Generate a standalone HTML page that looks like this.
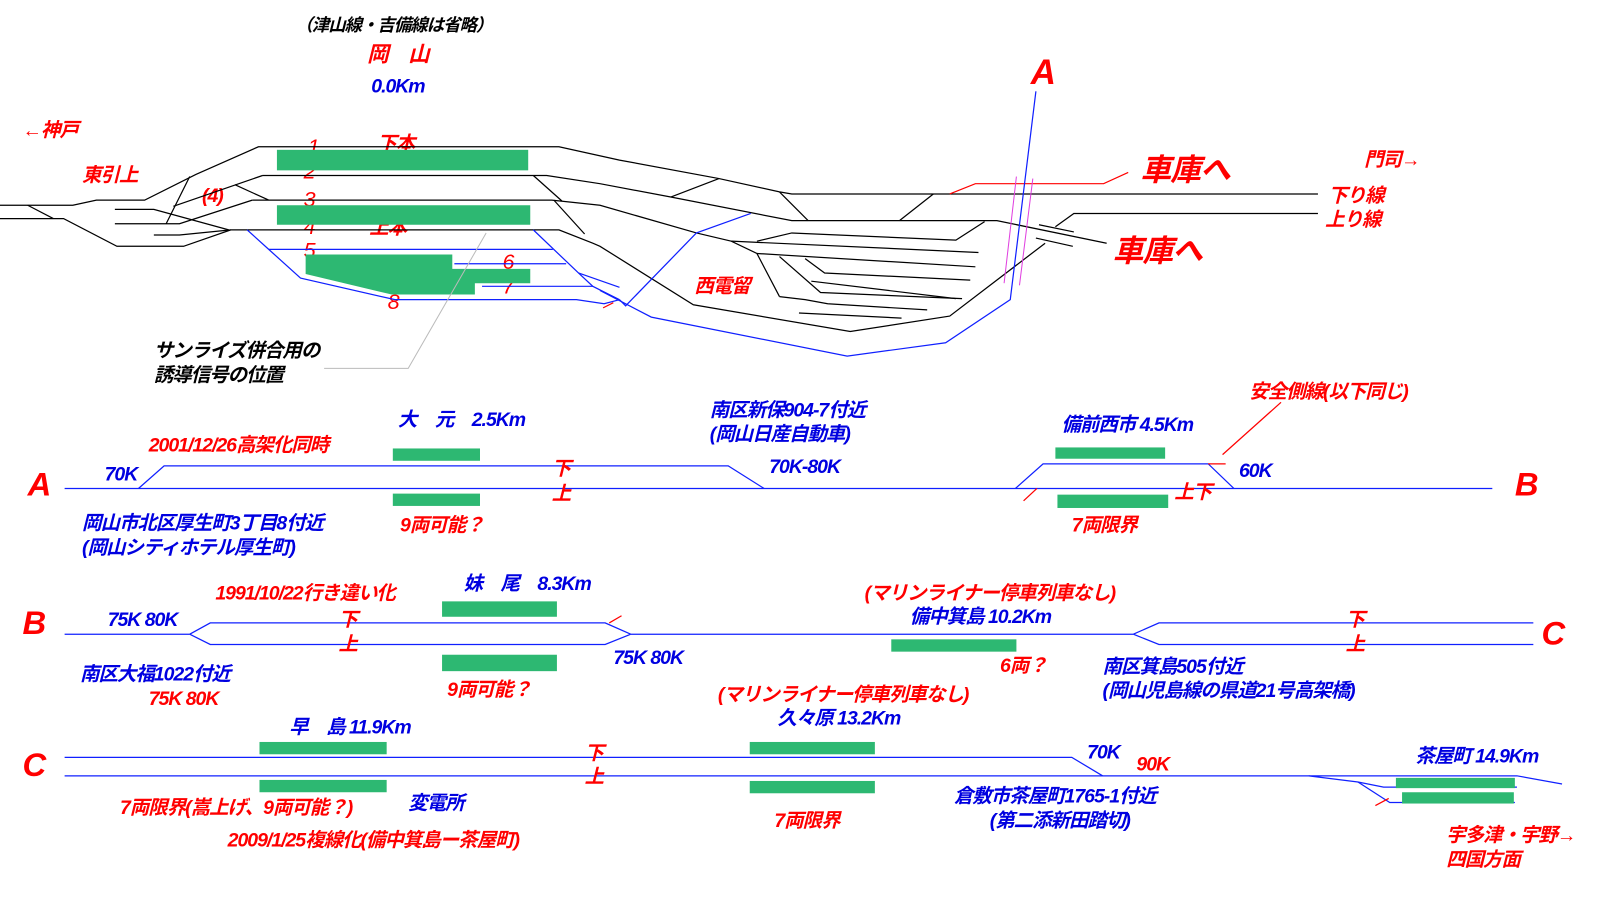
<!DOCTYPE html>
<html><head><meta charset="utf-8"><style>
html,body{margin:0;padding:0;background:#fff;}
svg{display:block}
text{font-family:"Liberation Sans","Noto Sans CJK JP",sans-serif;font-style:italic;font-size:19px;letter-spacing:-1px;font-weight:bold}
.r{fill:#f00}.b{fill:#0000e0}.k{fill:#000}
.bl{stroke:#000;stroke-width:1.2;fill:none}
.bu{stroke:#1020ff;stroke-width:1.2;fill:none}
.rd{stroke:#f00;stroke-width:1.2;fill:none}
.g{fill:#2db872}
.big{font-size:32px}
.huge{font-size:30px}
.num{font-size:21px;font-weight:normal}
</style></head><body>
<svg width="1600" height="900" viewBox="0 0 1560 877" preserveAspectRatio="none" xmlns="http://www.w3.org/2000/svg">
<!-- top texts -->
<text class="k" x="288" y="30" style="font-size:17px">（津山線・吉備線は省略）</text>
<text class="r" x="358" y="60" style="font-size:21px">岡　山</text>
<text class="b" x="362" y="90">0.0Km</text>
<text class="r" x="22" y="133">←神戸</text>
<text class="r" x="80" y="177">東引上</text>
<text class="r" x="197" y="197">(4)</text>
<text class="r num" x="300" y="150">1</text>
<text class="r" x="368" y="146">下本</text>
<text class="r num" x="296" y="174">2</text>
<text class="r num" x="296" y="201">3</text>
<text class="r num" x="296" y="228">4</text>
<text class="r" x="360" y="228">上本</text>
<text class="r num" x="296" y="251">5</text>
<text class="r" x="383" y="273">宇野</text>
<text class="r num" x="490" y="262">6</text>
<text class="r num" x="490" y="286">7</text>
<text class="r num" x="378" y="301">8</text>
<text class="r" x="677" y="285">西電留</text>
<text class="r" x="1005" y="82" style="font-size:34px">A</text>
<text class="r" x="1112" y="176" style="font-size:30px">車庫へ</text>
<text class="r" x="1085" y="255" style="font-size:30px">車庫へ</text>
<text class="r" x="1330" y="162">門司→</text>
<text class="r" x="1295" y="197">下り線</text>
<text class="r" x="1292" y="220">上り線</text>
<text class="k" x="150" y="348">サンライズ併合用の</text>
<text class="k" x="150" y="372">誘導信号の位置</text>

<!-- green platforms top -->
<rect class="g" x="270" y="146" width="245" height="20"/>
<rect class="g" x="270" y="200" width="247" height="19"/>
<polygon class="g" points="298,248 441,248 441,262 517,262 517,276 463,276 463,287 382,287 298,267"/>

<!-- black tracks -->
<polyline class="bl" points="0,200 71,200 94,195 141,195 191,170 252,143 545,143 604,156 701,174 760,187 772,189 1285,189"/>
<polyline class="bl" points="0,213 62,213 114,240 179,240 225,224 545,224 578,237 585,240 676,297 829,323 926,308 1019,237"/>
<line class="bl" x1="27" y1="200" x2="52" y2="213"/>
<polyline class="bl" points="256,171 533,171 585,179 654,192 772,215 972,215 1079,237"/>
<polyline class="bl" points="246,195 538,195 585,200 679,227 713,235 738,247 760,289"/>
<polyline class="bl" points="112,204 150,204 223,224"/>
<polyline class="bl" points="112,218 175,218 246,195"/>
<polyline class="bl" points="150,229 175,229 225,224"/>
<line class="bl" x1="162" y1="218" x2="185" y2="172"/>
<line class="bl" x1="169" y1="201" x2="256" y2="171"/>
<line class="bl" x1="229" y1="180" x2="262" y2="195"/>
<line class="bl" x1="520" y1="171" x2="548" y2="196"/>
<line class="bl" x1="540" y1="195" x2="570" y2="228"/>
<line class="bl" x1="760" y1="187" x2="788" y2="215"/>
<line class="bl" x1="701" y1="174" x2="654" y2="192"/>
<line class="bl" x1="910" y1="189" x2="877" y2="215"/>
<polyline class="bl" points="1285,208 1047,208 1029,221"/>
<line class="bl" x1="1013" y1="219" x2="1047" y2="226"/>
<line class="bl" x1="1010" y1="232" x2="1046" y2="240"/>
<polyline class="bl" points="738,235 772,227 932,234 960,216"/>
<line class="bl" x1="713" y1="235" x2="954" y2="246"/>
<line class="bl" x1="738" y1="247" x2="951" y2="260"/>
<polyline class="bl" points="785,252 804,266 946,273"/>
<polyline class="bl" points="760,250 800,285 938,291"/>
<line class="bl" x1="791" y1="274" x2="932" y2="291"/>
<polyline class="bl" points="760,289 785,292 807,296 904,302"/>
<line class="bl" x1="779" y1="305" x2="879" y2="310"/>
<!-- red top -->
<polyline class="rd" points="926,189 951,179 1076,179 1100,168"/>
<line class="rd" x1="588" y1="300" x2="598" y2="295"/>
<!-- magenta -->
<line x1="991" y1="172" x2="979" y2="276" stroke="#e040e0" stroke-width="1"/>
<line x1="1007" y1="174" x2="994" y2="278" stroke="#e040e0" stroke-width="1"/>
<!-- blue top -->
<polyline class="bu" points="241,224 262,243 293,271 385,292 562,292 589,296 604,292"/>
<line class="bu" x1="262" y1="243" x2="539" y2="243"/>
<line class="bu" x1="443" y1="257" x2="552" y2="257"/>
<line class="bu" x1="470" y1="279" x2="578" y2="279"/>
<polyline class="bu" points="520,224 564,266 578,279 604,292"/>
<line class="bu" x1="564" y1="266" x2="604" y2="280"/>
<polyline class="bu" points="604,292 610,298 679,227 732,208"/>
<polyline class="bu" points="585,283 635,309 826,347 922,334 985,292 1010,89"/>
<polyline points="474,227 398,359 316,359" stroke="#bbb" fill="none" stroke-width="1"/>

<!-- Row A -->
<line class="bu" x1="63" y1="476" x2="1455" y2="476"/>
<polyline class="bu" points="135,476 160,454 710,454 745,476"/>
<polyline class="bu" points="990,476 1017,452 1178,452 1203,476"/>
<line class="rd" x1="998" y1="488" x2="1011" y2="476"/>
<line class="rd" x1="1178" y1="452" x2="1195" y2="452"/>
<line class="rd" x1="1192" y1="443" x2="1249" y2="392"/>
<rect class="g" x="383" y="437" width="85" height="12"/>
<rect class="g" x="383" y="481" width="85" height="12"/>
<rect class="g" x="1029" y="436" width="107" height="11"/>
<rect class="g" x="1031" y="482" width="108" height="13"/>
<text class="b" x="388" y="415">大　元　2.5Km</text>
<text class="r" x="145" y="440">2001/12/26高架化同時</text>
<text class="b" x="102" y="468">70K</text>
<text class="r" x="27" y="483" style="font-size:32px">A</text>
<text class="r" x="538" y="463">下</text>
<text class="r" x="538" y="487">上</text>
<text class="b" x="692" y="406">南区新保904-7付近</text>
<text class="b" x="692" y="429">(岡山日産自動車)</text>
<text class="b" x="750" y="461">70K-80K</text>
<text class="b" x="1035" y="420">備前西市 4.5Km</text>
<text class="r" x="1218" y="388">安全側線(以下同じ)</text>
<text class="b" x="1208" y="465">60K</text>
<text class="r" x="1145" y="486">上下</text>
<text class="r" x="1477" y="483" style="font-size:32px">B</text>
<text class="b" x="80" y="516">岡山市北区厚生町3丁目8付近</text>
<text class="b" x="80" y="540">(岡山シティホテル厚生町)</text>
<text class="r" x="390" y="518">9両可能？</text>
<text class="r" x="1045" y="518">7両限界</text>

<!-- Row B -->
<line class="bu" x1="63" y1="618" x2="185" y2="618"/>
<polyline class="bu" points="185,618 205,607 590,607 615,618"/>
<polyline class="bu" points="185,618 205,628 590,628 615,618"/>
<line class="bu" x1="615" y1="618" x2="1105" y2="618"/>
<polyline class="bu" points="1105,618 1130,607 1495,607"/>
<polyline class="bu" points="1105,618 1130,628 1495,628"/>
<line class="rd" x1="594" y1="607" x2="606" y2="600"/>
<rect class="g" x="431" y="586" width="112" height="15"/>
<rect class="g" x="431" y="638" width="112" height="16"/>
<rect class="g" x="869" y="623" width="122" height="12"/>
<text class="r" x="210" y="584">1991/10/22行き違い化</text>
<text class="b" x="452" y="575">妹　尾　8.3Km</text>
<text class="r" x="22" y="618" style="font-size:32px">B</text>
<text class="b" x="105" y="610">75K 80K</text>
<text class="r" x="330" y="610">下</text>
<text class="r" x="330" y="634">上</text>
<text class="r" x="843" y="584">(マリンライナー停車列車なし)</text>
<text class="b" x="887" y="607">備中箕島 10.2Km</text>
<text class="b" x="598" y="647">75K 80K</text>
<text class="r" x="975" y="655">6両？</text>
<text class="r" x="1503" y="628" style="font-size:32px">C</text>
<text class="r" x="1312" y="610">下</text>
<text class="r" x="1312" y="634">上</text>
<text class="b" x="78" y="663">南区大福1022付近</text>
<text class="r" x="145" y="687">75K 80K</text>
<text class="r" x="436" y="678">9両可能？</text>
<text class="b" x="1075" y="656">南区箕島505付近</text>
<text class="b" x="1075" y="679">(岡山児島線の県道21号高架橋)</text>

<!-- Row C -->
<polyline class="bu" points="63,738 1045,738 1075,756"/>
<polyline class="bu" points="63,756 1276,756 1479,756 1523,764"/>
<polyline class="bu" points="1276,756 1324,762 1349,767 1479,767"/>
<polyline class="bu" points="1324,762 1355,782 1477,782"/>
<line class="rd" x1="1341" y1="785" x2="1354" y2="778"/>
<rect class="g" x="253" y="723" width="124" height="12"/>
<rect class="g" x="253" y="760" width="124" height="12"/>
<rect class="g" x="731" y="723" width="122" height="12"/>
<rect class="g" x="731" y="761" width="122" height="12"/>
<rect class="g" x="1361" y="758" width="116" height="10"/>
<rect class="g" x="1367" y="772" width="109" height="11"/>
<text class="r" x="700" y="683">(マリンライナー停車列車なし)</text>
<text class="b" x="282" y="715">早　島 11.9Km</text>
<text class="b" x="758" y="706">久々原 13.2Km</text>
<text class="r" x="22" y="756" style="font-size:32px">C</text>
<text class="r" x="570" y="740">下</text>
<text class="r" x="570" y="763">上</text>
<text class="b" x="1060" y="739">70K</text>
<text class="r" x="1108" y="751">90K</text>
<text class="b" x="1380" y="743">茶屋町 14.9Km</text>
<text class="r" x="117" y="793">7両限界(嵩上げ、9両可能？)</text>
<text class="b" x="398" y="789">変電所</text>
<text class="r" x="222" y="825">2009/1/25複線化(備中箕島ー茶屋町)</text>
<text class="r" x="755" y="806">7両限界</text>
<text class="b" x="930" y="782">倉敷市茶屋町1765-1付近</text>
<text class="b" x="965" y="806">(第二添新田踏切)</text>
<text class="r" x="1410" y="820">宇多津・宇野→</text>
<text class="r" x="1410" y="844">四国方面</text>
</svg>
</body></html>
